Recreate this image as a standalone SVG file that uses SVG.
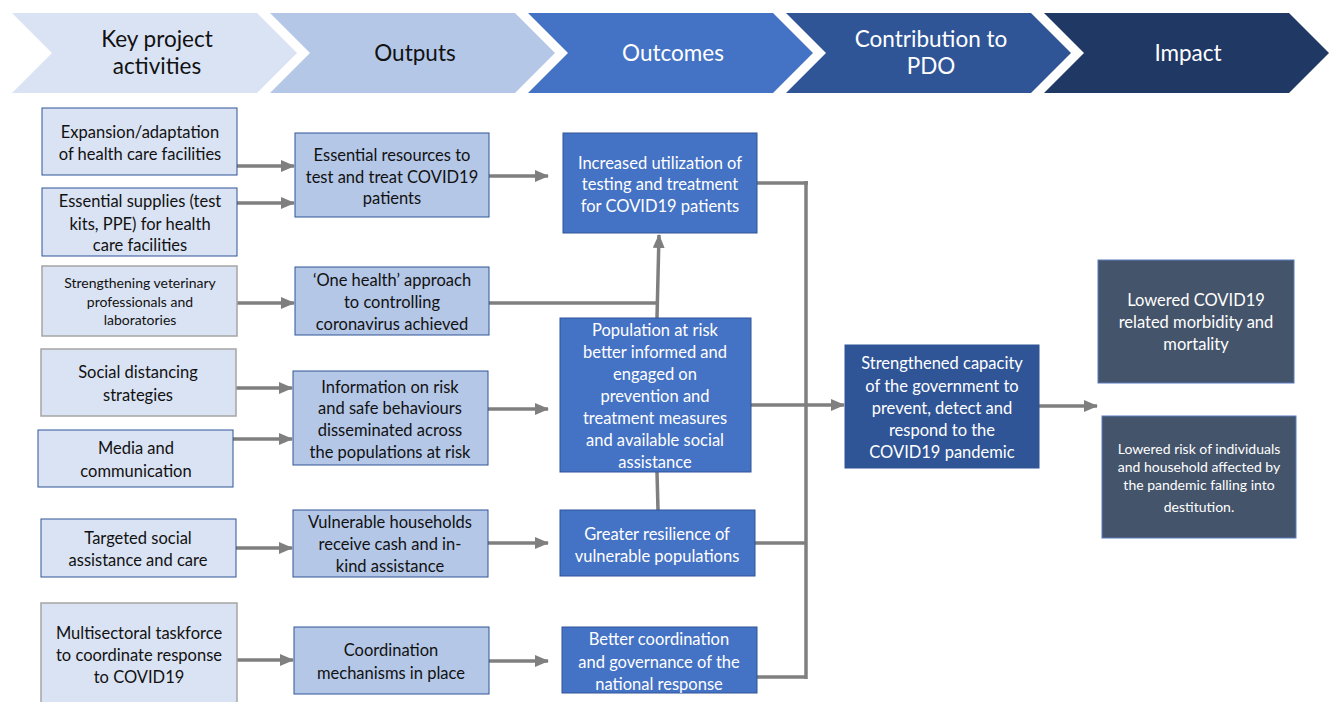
<svg xmlns="http://www.w3.org/2000/svg" width="1329" height="702" viewBox="0 0 1329 702">
<defs>
<marker id="ah" markerUnits="userSpaceOnUse" markerWidth="14" markerHeight="12" refX="13" refY="6" orient="auto"><path d="M0,0 L14,6 L0,12 Z" fill="#7F7F7F"/></marker>
<style>
text{font-family:Lato,"Liberation Sans",sans-serif;text-anchor:middle}
.h{font-size:22.5px}
.t{font-size:16.5px}
.s{font-size:14px}
.dk{fill:#111111}
.wt{fill:#ffffff}
.act{fill:#DAE3F3;stroke:#2F5597;stroke-width:1}
.actg{fill:#DAE3F3;stroke:#A5A5A5;stroke-width:1.5}
.out{fill:#B4C7E7;stroke:#2F5597;stroke-width:1}
.oc{fill:#4472C4;stroke:#2F5597;stroke-width:1}
.pdo{fill:#2F5597;stroke:#2F5597;stroke-width:1}
.imp{fill:#44546A;stroke:#5B7BC0;stroke-width:1}
.c{fill:none;stroke:#7F7F7F;stroke-width:3.5}
.ca{fill:none;stroke:#7F7F7F;stroke-width:3.5;marker-end:url(#ah)}
</style>
</defs>
<rect width="1329" height="702" fill="#ffffff"/>
<g id="header">
<g id="h1"><polygon points="12,13 257,13 297,53 257,93 12,93 52,53" fill="#DAE3F3"/><text class="h dk" x="157" y="47">Key project</text><text class="h dk" x="157" y="74">activities</text></g>
<g id="h2"><polygon points="270,13 515,13 555,53 515,93 270,93 310,53" fill="#B4C7E7"/><text class="h dk" x="415" y="61">Outputs</text></g>
<g id="h3"><polygon points="528,13 773,13 813,53 773,93 528,93 568,53" fill="#4472C4"/><text class="h wt" x="673" y="61">Outcomes</text></g>
<g id="h4"><polygon points="786,13 1031,13 1071,53 1031,93 786,93 826,53" fill="#2F5597"/><text class="h wt" x="931" y="47">Contribution to</text><text class="h wt" x="931" y="74">PDO</text></g>
<g id="h5"><polygon points="1044,13 1289,13 1329,53 1289,93 1044,93 1084,53" fill="#203864"/><text class="h wt" x="1188" y="61">Impact</text></g>
</g>
<g id="connectors">
<line class="ca" x1="237" y1="166" x2="294" y2="166"/>
<line class="ca" x1="237" y1="203" x2="294" y2="203"/>
<line class="ca" x1="237" y1="303" x2="294" y2="303"/>
<line class="ca" x1="236" y1="388" x2="292" y2="388"/>
<line class="ca" x1="233" y1="439" x2="292" y2="439"/>
<line class="ca" x1="236" y1="548" x2="292" y2="548"/>
<line class="ca" x1="237" y1="660" x2="293" y2="660"/>
<line class="ca" x1="489" y1="176" x2="548" y2="176"/>
<line class="ca" x1="488" y1="409" x2="548" y2="409"/>
<line class="ca" x1="488" y1="543" x2="548" y2="543"/>
<line class="ca" x1="489" y1="661" x2="548" y2="661"/>
<polyline class="c" points="489,303 658,303"/>
<line class="ca" x1="657" y1="318" x2="659" y2="235"/>
<line class="c" x1="657" y1="472" x2="658" y2="510"/>
<polyline class="c" points="757,183 808,183"/>
<line class="c" x1="806" y1="181" x2="806" y2="679"/>
<line class="ca" x1="751" y1="405" x2="844" y2="405"/>
<line class="c" x1="755" y1="543" x2="806" y2="543"/>
<line class="c" x1="757" y1="677" x2="806" y2="677"/>
<line class="ca" x1="1039" y1="406" x2="1097" y2="406"/>
</g>
<g id="a1"><rect class="act" x="42" y="108" width="195" height="67"/><text class="t dk" x="140" y="138">Expansion/adaptation</text><text class="t dk" x="140" y="160">of health care facilities</text></g>
<g id="a2"><rect class="act" x="42" y="188" width="195" height="68"/><text class="t dk" x="140" y="207">Essential supplies (test</text><text class="t dk" x="140" y="230">kits, PPE) for health</text><text class="t dk" x="140" y="251">care facilities</text></g>
<g id="a3"><rect class="actg" x="42" y="266" width="195" height="70"/><text class="s dk" x="140" y="288">Strengthening veterinary</text><text class="s dk" x="140" y="307">professionals and</text><text class="s dk" x="140" y="325">laboratories</text></g>
<g id="a4"><rect class="actg" x="41" y="349" width="195" height="67"/><text class="t dk" x="138" y="378">Social distancing</text><text class="t dk" x="138" y="401">strategies</text></g>
<g id="a5"><rect class="act" x="38" y="430" width="195" height="57"/><text class="t dk" x="136" y="454">Media and</text><text class="t dk" x="136" y="477">communication</text></g>
<g id="a6"><rect class="act" x="41" y="519" width="195" height="58"/><text class="t dk" x="138" y="544">Targeted social</text><text class="t dk" x="138" y="566">assistance and care</text></g>
<g id="a7"><rect class="actg" x="41" y="603" width="196" height="102"/><text class="t dk" x="139" y="639">Multisectoral taskforce</text><text class="t dk" x="139" y="661">to coordinate response</text><text class="t dk" x="139" y="683">to COVID19</text></g>
<g id="o1"><rect class="out" x="295" y="133" width="194" height="84"/><text class="t dk" x="392" y="161">Essential resources to</text><text class="t dk" x="392" y="183">test and treat COVID19</text><text class="t dk" x="392" y="204">patients</text></g>
<g id="o2"><rect class="out" x="295" y="267" width="194" height="68"/><text class="t dk" x="392" y="286">‘One health’ approach</text><text class="t dk" x="392" y="308">to controlling</text><text class="t dk" x="392" y="330">coronavirus achieved</text></g>
<g id="o3"><rect class="out" x="293" y="371" width="195" height="94"/><text class="t dk" x="390" y="393">Information on risk</text><text class="t dk" x="390" y="414">and safe behaviours</text><text class="t dk" x="390" y="436">disseminated across</text><text class="t dk" x="390" y="458">the populations at risk</text></g>
<g id="o4"><rect class="out" x="293" y="510" width="195" height="67"/><text class="t dk" x="390" y="528">Vulnerable households</text><text class="t dk" x="390" y="550">receive cash and in-</text><text class="t dk" x="390" y="572">kind assistance</text></g>
<g id="o5"><rect class="out" x="294" y="627" width="195" height="67"/><text class="t dk" x="391" y="656">Coordination</text><text class="t dk" x="391" y="679">mechanisms in place</text></g>
<g id="c1"><rect class="oc" x="563" y="133" width="194" height="100"/><text class="t wt" x="660" y="169">Increased utilization of</text><text class="t wt" x="660" y="190">testing and treatment</text><text class="t wt" x="660" y="212">for COVID19 patients</text></g>
<g id="c2"><rect class="oc" x="560" y="318" width="191" height="154"/><text class="t wt" x="655" y="336">Population at risk</text><text class="t wt" x="655" y="358">better informed and</text><text class="t wt" x="655" y="380">engaged on</text><text class="t wt" x="655" y="402">prevention and</text><text class="t wt" x="655" y="424">treatment measures</text><text class="t wt" x="655" y="446">and available social</text><text class="t wt" x="655" y="468">assistance</text></g>
<g id="c3"><rect class="oc" x="560" y="510" width="195" height="66"/><text class="t wt" x="657" y="540">Greater resilience of</text><text class="t wt" x="657" y="562">vulnerable populations</text></g>
<g id="c4"><rect class="oc" x="562" y="627" width="195" height="66"/><text class="t wt" x="659" y="645">Better coordination</text><text class="t wt" x="659" y="668">and governance of the</text><text class="t wt" x="659" y="690">national response</text></g>
<g id="pdo"><rect class="pdo" x="845" y="345" width="194" height="123"/><text class="t wt" x="942" y="369">Strengthened capacity</text><text class="t wt" x="942" y="392">of the government to</text><text class="t wt" x="942" y="414">prevent, detect and</text><text class="t wt" x="942" y="436">respond to the</text><text class="t wt" x="942" y="458">COVID19 pandemic</text></g>
<g id="i1"><rect class="imp" x="1098" y="260" width="196" height="123"/><text class="t wt" x="1196" y="306">Lowered COVID19</text><text class="t wt" x="1196" y="328">related morbidity and</text><text class="t wt" x="1196" y="350">mortality</text></g>
<g id="i2"><rect class="imp" x="1102" y="416" width="194" height="122"/><text class="s wt" x="1199" y="454">Lowered risk of individuals</text><text class="s wt" x="1199" y="472">and household affected by</text><text class="s wt" x="1199" y="490">the pandemic falling into</text><text class="s wt" x="1199" y="512">destitution.</text></g>
</svg>
